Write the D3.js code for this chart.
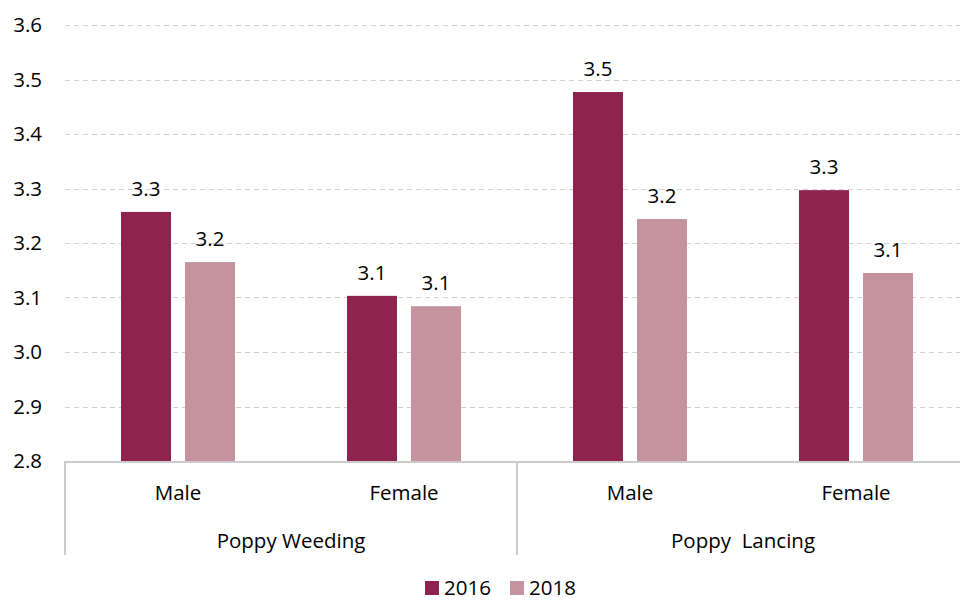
<!DOCTYPE html>
<html>
<head>
<meta charset="utf-8">
<script src="https://cdn.jsdelivr.net/npm/d3@7"></script>
<style>
  body { margin: 0; background: #fff; }
  svg { display: block; font-family: "Open Sans", sans-serif; }
</style>
</head>
<body>
<svg width="960" height="601"></svg>
<script>
const groups = ["Poppy Weeding", "Poppy  Lancing"];
const genders = ["Male", "Female"];
const years = ["2016", "2018"];
const values2016 = [3.257, 3.103, 3.477, 3.297];
const values2018 = [3.165, 3.084, 3.244, 3.145];
const yTicks = [2.8, 2.9, 3.0, 3.1, 3.2, 3.3, 3.4, 3.5, 3.6];
const colors = ["#8e2350", "#c4939e"];

const svg = d3.select("svg");
const fontSize = 20.5;

const data = [];
groups.forEach((g, gi) => genders.forEach((s, si) => {
    const i = gi * genders.length + si;
    data.push({key: g + "|" + s, group: g, gender: s, v: [values2016[i], values2018[i]]});
}));

const x0 = d3.scaleBand()
    .domain(data.map(d => d.key))
    .range([65, 969]);

const x1 = d3.scaleBand()
    .domain(years)
    .range([0, x0.bandwidth()])
    .paddingInner(14 / 64)
    .paddingOuter(0.875);

const y = d3.scaleLinear()
    .domain([2.8, 3.6])
    .range([461, 25]);

// grid
svg.append("g")
    .selectAll("line")
    .data(yTicks.slice(1))
    .join("line")
    .attr("x1", 65).attr("x2", 960)
    .attr("y1", d => Math.round(y(d)) + 0.5)
    .attr("y2", d => Math.round(y(d)) + 0.5)
    .attr("stroke", "#d0d0d0")
    .attr("stroke-width", 1)
    .attr("stroke-dasharray", "5,4");

// y labels
svg.append("g")
    .selectAll("text")
    .data(yTicks)
    .join("text")
    .attr("x", 42)
    .attr("y", d => y(d))
    .attr("dy", "0.36em")
    .attr("text-anchor", "end")
    .attr("font-size", fontSize)
    .attr("fill", "#000")
    .text(d => d.toFixed(1));

// bars
const cat = svg.append("g")
    .selectAll("g")
    .data(data)
    .join("g")
    .attr("transform", d => `translate(${x0(d.key)},0)`);

cat.selectAll("rect")
    .data(d => d.v.map((v, i) => ({v, i})))
    .join("rect")
    .attr("x", d => x1(years[d.i]))
    .attr("y", d => y(d.v))
    .attr("width", x1.bandwidth())
    .attr("height", d => y(2.8) - y(d.v))
    .attr("fill", d => colors[d.i]);

cat.selectAll("text.val")
    .data(d => d.v.map((v, i) => ({v, i})))
    .join("text")
    .attr("class", "val")
    .attr("x", d => x1(years[d.i]) + x1.bandwidth() / 2)
    .attr("y", d => y(d.v) - 16)
    .attr("text-anchor", "middle")
    .attr("font-size", fontSize)
    .attr("fill", "#000")
    .text(d => d.v.toFixed(1));

// axis line
svg.append("line")
    .attr("x1", 64).attr("x2", 960)
    .attr("y1", 462).attr("y2", 462)
    .attr("stroke", "#cccccc")
    .attr("stroke-width", 2);

// category separators
const gw = x0.bandwidth() * genders.length;
svg.append("g")
    .selectAll("line")
    .data(groups)
    .join("line")
    .attr("x1", (d, i) => 65 + i * gw)
    .attr("x2", (d, i) => 65 + i * gw)
    .attr("y1", 462).attr("y2", 555)
    .attr("stroke", "#cccccc")
    .attr("stroke-width", 2);

// category labels
svg.append("g")
    .selectAll("text")
    .data(data)
    .join("text")
    .attr("x", d => x0(d.key) + x0.bandwidth() / 2)
    .attr("y", 500)
    .attr("text-anchor", "middle")
    .attr("font-size", fontSize)
    .attr("fill", "#000")
    .text(d => d.gender);

svg.append("g")
    .selectAll("text")
    .data(groups)
    .join("text")
    .attr("x", (d, i) => 65 + i * gw + gw / 2)
    .attr("y", 548)
    .attr("text-anchor", "middle")
    .attr("font-size", fontSize)
    .attr("fill", "#000")
    .style("white-space", "pre")
    .text(d => d);

// legend
const legendX = [425, 510];
const legend = svg.append("g")
    .selectAll("g")
    .data(years)
    .join("g")
    .attr("transform", (d, i) => `translate(${legendX[i]},581)`);

legend.append("rect")
    .attr("width", 14).attr("height", 14)
    .attr("fill", (d, i) => colors[i]);

legend.append("text")
    .attr("x", 19)
    .attr("y", 14)
    .attr("font-size", fontSize)
    .attr("fill", "#000")
    .text(d => d);
</script>
</body>
</html>
